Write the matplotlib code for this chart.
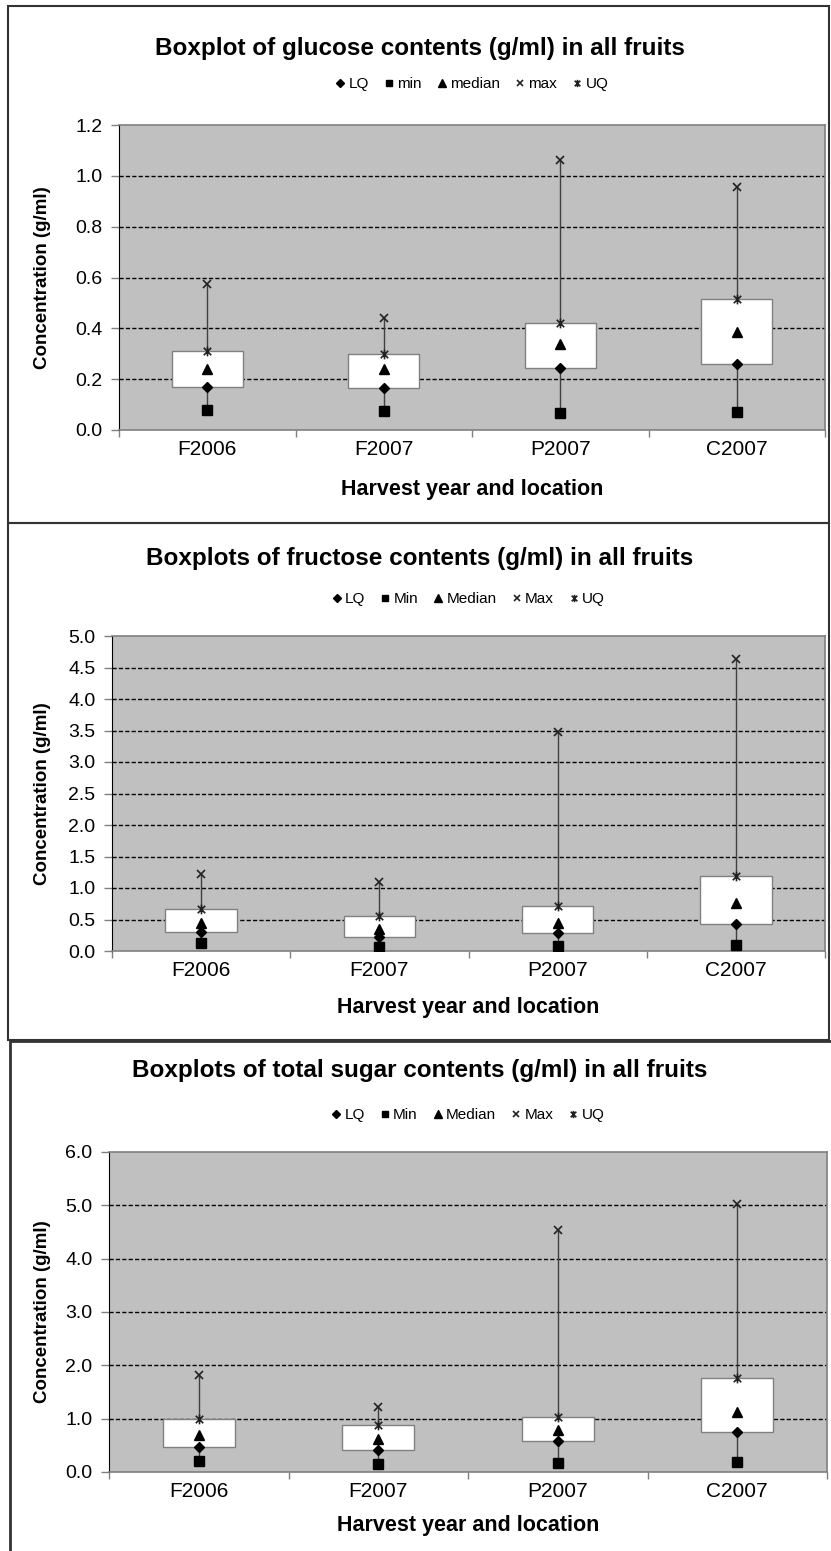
import numpy as np
import matplotlib
matplotlib.use("Agg")
from matplotlib import pyplot as plt
from matplotlib.path import Path
from matplotlib.patches import Rectangle

plt.rcParams['font.family'] = ['Liberation Sans', 'DejaVu Sans']

sites = ["F2006", "F2007", "P2007", "C2007"]

# glucose (g/ml)
glucose_lq = [0.17, 0.165, 0.243, 0.259]
glucose_min = [0.08, 0.075, 0.067, 0.07]
glucose_median = [0.24, 0.24, 0.34, 0.384]
glucose_max = [0.576, 0.44, 1.063, 0.957]
glucose_uq = [0.31, 0.30, 0.42, 0.514]

# fructose (g/ml)
fructose_lq = [0.30, 0.22, 0.28, 0.43]
fructose_min = [0.12, 0.06, 0.08, 0.09]
fructose_median = [0.44, 0.35, 0.44, 0.76]
fructose_max = [1.22, 1.09, 3.48, 4.63]
fructose_uq = [0.67, 0.56, 0.71, 1.19]

# total sugar (g/ml)
total_lq = [0.47, 0.41, 0.58, 0.75]
total_min = [0.21, 0.15, 0.17, 0.19]
total_median = [0.69, 0.62, 0.78, 1.12]
total_max = [1.81, 1.21, 4.54, 5.02]
total_uq = [1.0, 0.88, 1.03, 1.76]

W, H = 831, 1551
fig = plt.figure(figsize=(W / 100, H / 100), dpi=100)

# excel style "star" marker: an x with a vertical bar through it
star = Path([(-1, -1), (1, 1), (-1, 1), (1, -1), (0, -1.3), (0, 1.3)],
            [Path.MOVETO, Path.LINETO] * 3)


def px_axes(left, top, right, bottom):
    return fig.add_axes([left / W, 1 - bottom / H, (right - left) / W, (bottom - top) / H])


def panel_border(x0, y0, x1, y1, lw=1.5):
    fig.add_artist(Rectangle((x0 / W, 1 - y1 / H), (x1 - x0) / W, (y1 - y0) / H,
                             transform=fig.transFigure, fill=False, ec="#333333", lw=lw))


def draw_panel(box, lq, mn, med, mx, uq, ymax, step, title, names, title_y, legend_y, xlabel_y):
    left, top, right, bottom = box
    ax = px_axes(left, top, right, bottom)
    x = np.arange(len(sites))

    ax.set_facecolor("#c0c0c0")
    ax.set_xlim(-0.5, len(sites) - 0.5)
    ax.set_ylim(0, ymax)
    ticks = np.arange(0, ymax + step / 2, step)
    ax.set_yticks(ticks)
    ax.set_yticklabels([f"{t:.1f}" for t in ticks])
    for t in ticks[1:-1]:
        ax.axhline(t, color="black", lw=1, ls=(0, (3, 1.6)), zorder=1)

    # whisker from min to max, box from LQ to UQ on top
    ax.vlines(x, mn, mx, color="#404040", lw=1, zorder=2)
    ax.bar(x, np.subtract(uq, lq), bottom=lq, width=0.4, color="white",
           edgecolor="#808080", lw=1, zorder=3)

    ax.plot(x, lq, ls="none", marker="D", ms=5.5, color="black", zorder=4, label=names[0])
    ax.plot(x, mn, ls="none", marker="s", ms=6.5, color="black", zorder=4, label=names[1])
    ax.plot(x, med, ls="none", marker="^", ms=7, color="black", zorder=4, label=names[2])
    ax.plot(x, mx, ls="none", marker="x", ms=6, mew=1.2, color="#222222", zorder=4, label=names[3])
    ax.plot(x, uq, ls="none", marker=star, ms=7, mew=1.2, color="#222222", zorder=4, label=names[4])

    ax.set_xticks(x)
    ax.set_xticklabels(sites)
    ax.set_xticks(np.arange(-0.5, len(sites), 1), minor=True)
    ax.tick_params(axis="x", which="major", length=0, labelsize=15, pad=7)
    ax.tick_params(axis="x", which="minor", length=5, width=1, color="#808080")
    ax.tick_params(axis="y", direction="out", length=6, width=1, color="#808080",
                   labelsize=14, pad=6)

    for side in ["top", "right", "bottom"]:
        ax.spines[side].set_color("#808080")
        ax.spines[side].set_linewidth(1.2)
    ax.spines["left"].set_color("black")

    ax.set_xlabel("Harvest year and location", fontsize=15.5, fontweight="bold", va="center")
    ax.xaxis.set_label_coords(0.5, -(xlabel_y - bottom) / (bottom - top))
    ax.set_ylabel("Concentration (g/ml)", fontsize=13.5, fontweight="bold", va="center")
    ax.yaxis.set_label_coords((43 - left) / (right - left), 0.5)

    fig.text(420 / W, 1 - title_y / H, title, ha="center", va="center",
             fontsize=17.5, fontweight="bold")
    ax.legend(loc="center", bbox_to_anchor=((left + right) / 2 / W, 1 - legend_y / H),
              bbox_transform=fig.transFigure, ncol=5, frameon=False, fontsize=11,
              handlelength=0.6, handletextpad=0.25, columnspacing=1.0, markerscale=0.75)
    return ax


draw_panel((119, 125, 825, 430), glucose_lq, glucose_min, glucose_median, glucose_max, glucose_uq,
           1.2, 0.2, "Boxplot of glucose contents (g/ml) in all fruits",
           ["LQ", "min", "median", "max", "UQ"], 48, 84, 489)
panel_border(8, 6, 829, 523)

draw_panel((112, 636, 825, 951), fructose_lq, fructose_min, fructose_median, fructose_max, fructose_uq,
           5.0, 0.5, "Boxplots of fructose contents (g/ml) in all fruits",
           ["LQ", "Min", "Median", "Max", "UQ"], 559, 599, 1007)
panel_border(8, 523, 829, 1040)

draw_panel((109, 1152, 827, 1472), total_lq, total_min, total_median, total_max, total_uq,
           6.0, 1.0, "Boxplots of total sugar contents (g/ml) in all fruits",
           ["LQ", "Min", "Median", "Max", "UQ"], 1070, 1115, 1525)
panel_border(10, 1041, 840, 1560, lw=2)

fig.savefig("out.png", dpi=100)
